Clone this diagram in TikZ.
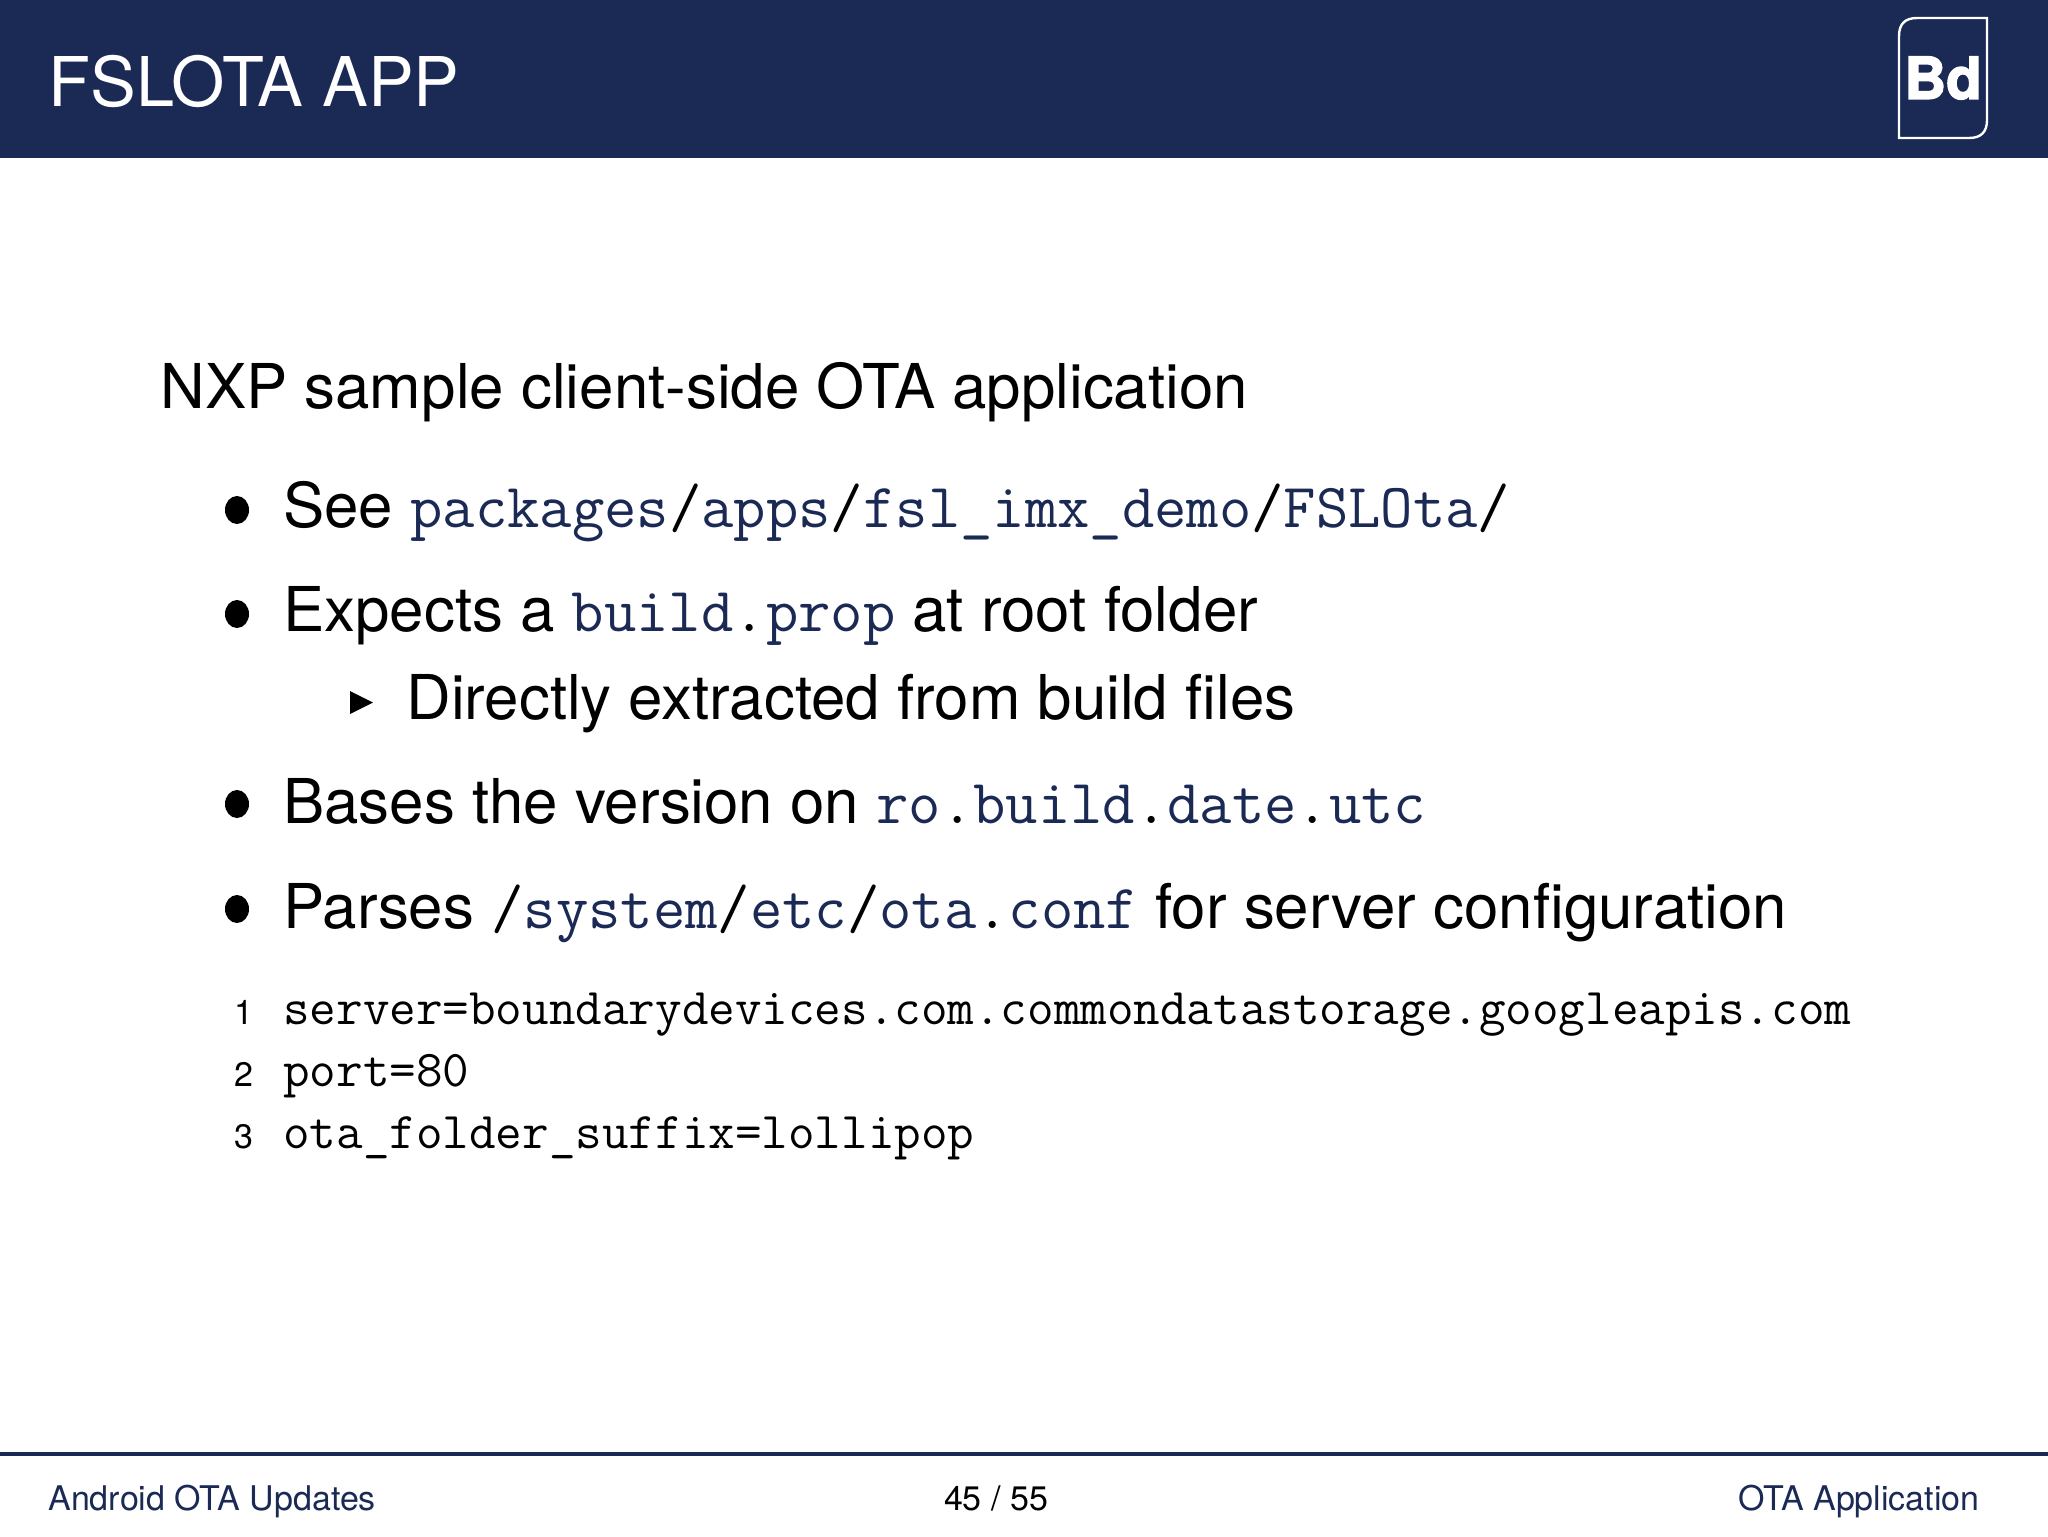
\documentclass[tikz,border=0pt]{standalone}
\usepackage{fontspec}
\setmainfont{TeX Gyre Heros}
\newfontfamily\logofont[BoldFeatures={FakeBold=2.5}]{TeX Gyre Heros}
\usetikzlibrary{positioning}
\definecolor{mnavy}{rgb}{0.106, 0.165, 0.333}
\tikzset{txt/.style = {anchor = base west, inner sep = 0, font = \fontsize{30.9}{36}\selectfont}}
\tikzset{lst/.style = {anchor = base west, inner sep = 0, font = \fontsize{25.8}{30}\selectfont\ttfamily}}
\tikzset{lnum/.style = {anchor = base east, inner sep = 0, font = \fontsize{17}{20}\selectfont}}
\tikzset{foot/.style = {inner sep = 0, text = mnavy, font = \fontsize{17}{22}\selectfont}}
\newcommand{\cde}[1]{{\fontsize{31.4}{36}\selectfont\ttfamily\textcolor{mnavy}{#1}}}
\newcommand{\blk}[1]{{\fontsize{31.4}{36}\selectfont\ttfamily #1}}
\begin{document}
\begin{tikzpicture}[x=0.5pt, y=-0.5pt]
      \useasboundingbox (0, 0) rectangle (2048, 1536);
      \fill [mnavy] (0, 0) rectangle (2048, 158);

      \node [txt, text=white, font=\fontsize{34.3}{42}\selectfont] (title) at (48, 106) {FSLOTA APP};

      % logo, two corners round
      \draw [white, line width=1.2] (1917, 18) -- (1987, 18) -- (1987, 120)
        .. controls (1987, 132) and (1981, 138) .. (1969, 138) -- (1899, 138) -- (1899, 36)
        .. controls (1899, 24) and (1905, 18) .. (1917, 18) -- cycle;
      \node [inner sep=0, text=white, font=\logofont\bfseries\fontsize{29}{40}\selectfont] (logo) at (1943, 78) {Bd};

      \node [txt] (intro) at (160, 408) {NXP sample client-side OTA application};

      \foreach \y in {510, 614, 804, 909} {
        \fill (237, \y) ellipse (12 and 14);
      }
      \fill (350, 691) -- (373, 702.5) -- (350, 714) -- cycle;

      \node [txt] (see) at (283, 527.5) {See \cde{packages}\blk{/}\cde{apps}\blk{/}\cde{fsl\_imx\_demo}\blk{/}\cde{FSLOta}\blk{/}};
      \node [txt] (expects) at (283, 631.5) {Expects a \cde{build}\blk{.}\cde{prop} at root folder};
      \node [txt] (directly) at (406, 719.5) {Directly extracted from build files};
      \node [txt] (bases) at (283, 823.5) {Bases the version on \cde{ro}\blk{.}\cde{build}\blk{.}\cde{date}\blk{.}\cde{utc}};
      \node [txt] (parses) at (283, 928.5) {Parses \blk{/}\cde{system}\blk{/}\cde{etc}\blk{/}\cde{ota}\blk{.}\cde{conf} for server configuration};

      \node [lst] (lineone) at (283, 1024) {server=boundarydevices.com.commondatastorage.googleapis.com};
      \node [lst] (linetwo) at (283, 1086) {port=80};
      \node [lst] (linethree) at (283, 1148) {ota\_folder\_suffix=lollipop};
      \node [lnum] (numone) at (254, 1024) {1};
      \node [lnum] (numtwo) at (254, 1086) {2};
      \node [lnum] (numthree) at (254, 1148) {3};

      \draw [mnavy, line width=2] (0, 1454) -- (2048, 1454);
      \node [foot, anchor=base west] (talk) at (48, 1510) {Android OTA Updates};
      \node [foot, anchor=base, text=black] (page) at (996, 1510) {45 / 55};
      \node [foot, anchor=base east] (section) at (1980, 1510) {OTA Application};
    \end{tikzpicture}
\end{document}
